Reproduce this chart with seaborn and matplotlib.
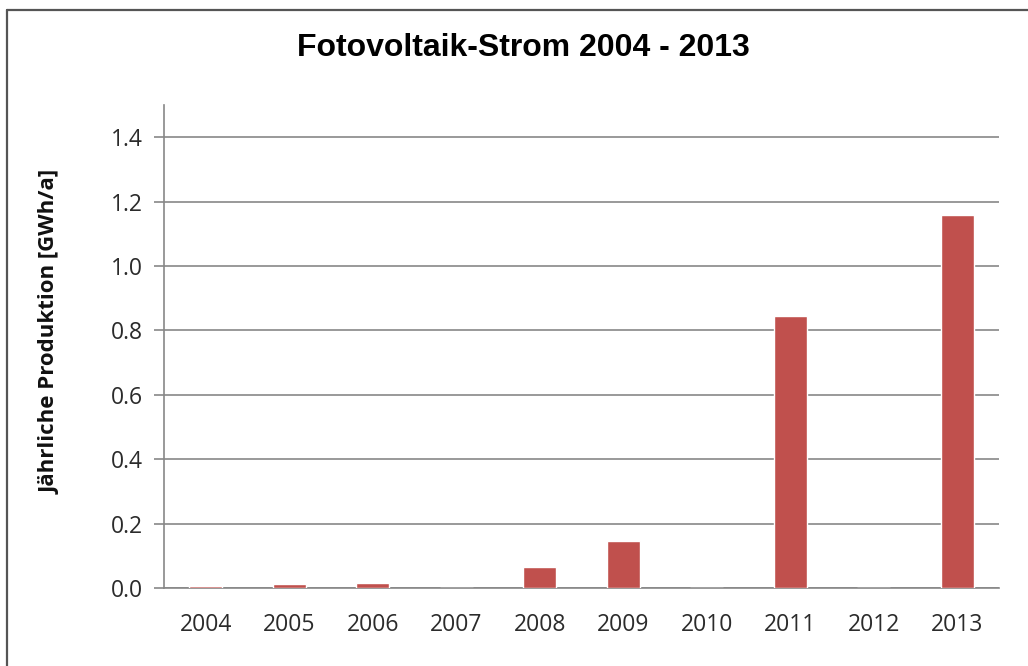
import matplotlib
matplotlib.use("Agg")
import matplotlib.pyplot as plt
from matplotlib.lines import Line2D
from matplotlib.ticker import FixedLocator
import seaborn as sns
import pandas as pd

# Annual photovoltaic production in GWh/a
years = ["2004", "2005", "2006", "2007", "2008", "2009", "2010", "2011", "2012", "2013"]
production = [0.005, 0.012, 0.017, 0.0, 0.065, 0.146, 0.0, 0.845, 0.0, 1.157]

title = "Fotovoltaik-Strom 2004 - 2013"
ylabel = "Jährliche Produktion [GWh/a]"

sns.set_theme(style="white")
plt.rcParams["font.family"] = ["Open Sans", "DejaVu Sans"]

df = pd.DataFrame({"Jahr": years, "Produktion": production})

fig = plt.figure(figsize=(10.28, 6.66), dpi=100)
ax = fig.add_axes([0.1595, 0.1171, 0.9718 - 0.1595, 0.8423 - 0.1171])

sns.barplot(data=df, x="Jahr", y="Produktion", color="#C0504D",
            saturation=1, width=0.4, ax=ax, zorder=3)

axis_grey = "#878787"
text_col = "#2b2b2b"
ax.set_xlim(-0.5, len(years) - 0.5)
ax.set_ylim(0, 1.5)
ax.yaxis.set_major_locator(FixedLocator([0, 0.2, 0.4, 0.6, 0.8, 1.0, 1.2, 1.4]))
ax.yaxis.set_major_formatter(plt.FuncFormatter(lambda v, p: f"{v:.1f}"))
ax.grid(axis="y", color=axis_grey, linewidth=1.2, zorder=0)
ax.set_axisbelow(True)

for side in ("top", "right"):
    ax.spines[side].set_visible(False)
for side in ("left", "bottom"):
    ax.spines[side].set_color(axis_grey)
    ax.spines[side].set_linewidth(1.2)

# category separators as minor ticks on the x axis
ax.xaxis.set_minor_locator(FixedLocator([i - 0.5 for i in range(len(years) + 1)]))
ax.tick_params(axis="x", which="major", length=0, pad=18, labelsize=16.5, labelcolor=text_col)
ax.tick_params(axis="x", which="minor", length=7, width=1.2, color=axis_grey, direction="out")
ax.tick_params(axis="y", which="major", left=True, length=7, width=1.2, color=axis_grey,
               direction="out", pad=8, labelsize=16.5, labelcolor=text_col)

ax.set_xlabel("")
ax.set_ylabel(ylabel, fontsize=16, fontweight="bold", color="#111111")
ax.yaxis.set_label_coords(-0.124, 0.53)

fig.text(0.509, 0.928, title, ha="center", va="center", fontsize=23, fontweight="bold",
         family=["Liberation Sans", "DejaVu Sans"], color="#000000")

# outer frame on the top and left edges
frame_col = "#555555"
fig.add_artist(Line2D([7 / 1028, 7 / 1028], [0, 1 - 9.5 / 666], transform=fig.transFigure,
                      color=frame_col, linewidth=1.6))
fig.add_artist(Line2D([7 / 1028, 1], [1 - 9.5 / 666, 1 - 9.5 / 666], transform=fig.transFigure,
                      color=frame_col, linewidth=1.6))

fig.savefig("out.png", dpi=100, facecolor="white")
